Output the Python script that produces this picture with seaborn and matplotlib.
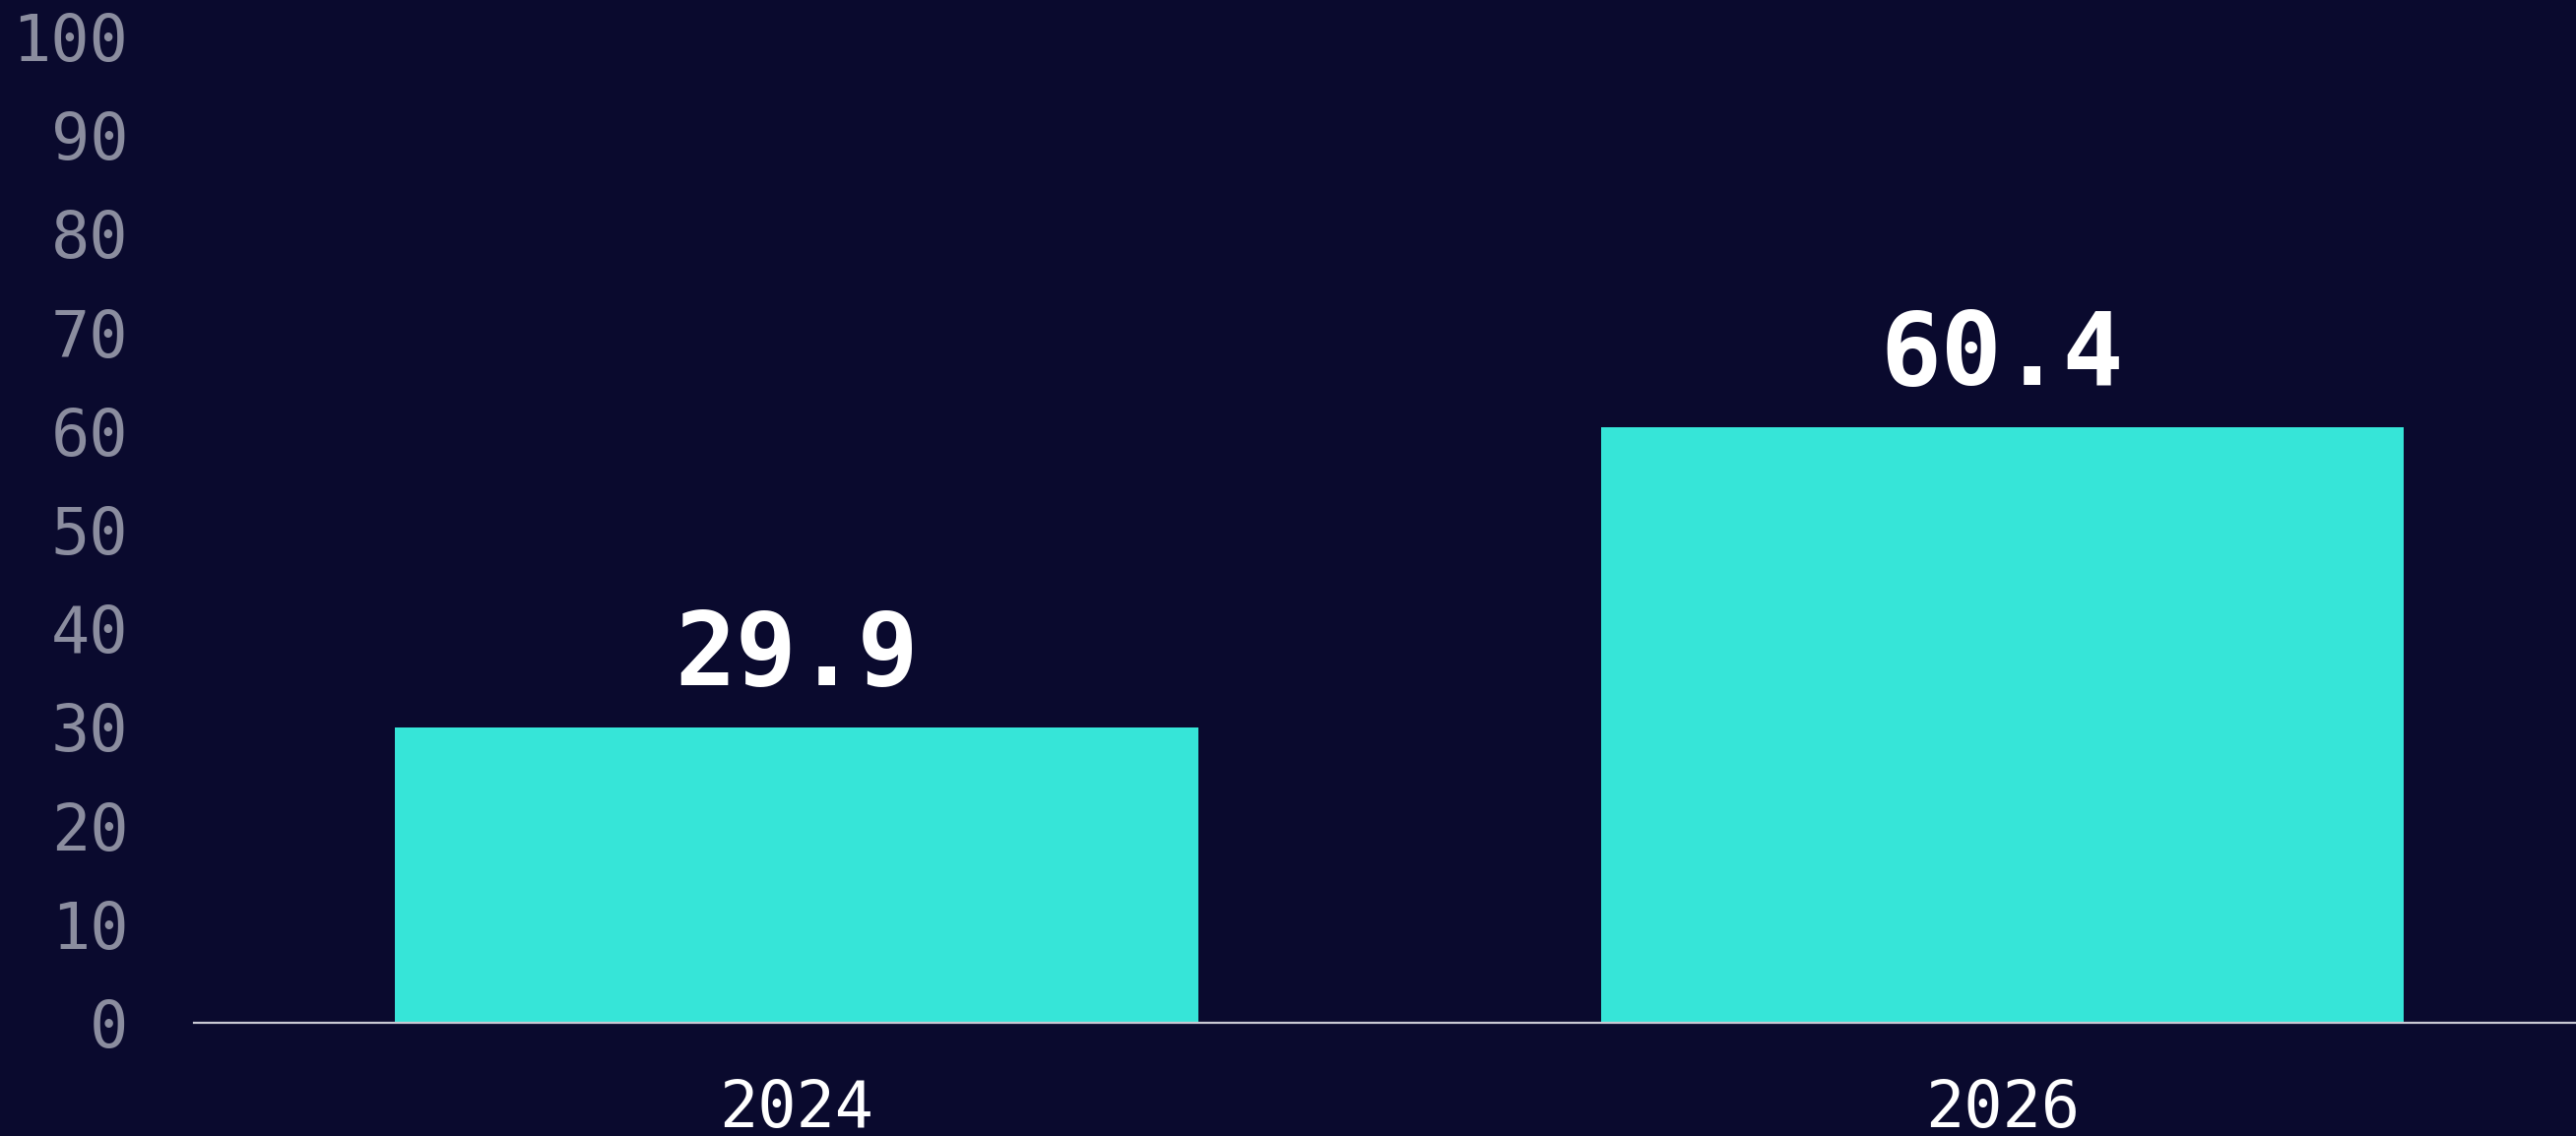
import matplotlib
matplotlib.use("Agg")
import matplotlib.pyplot as plt
import seaborn as sns
import pandas as pd

years = ["2024", "2026"]
values = [29.9, 60.4]
y_ticks = [0, 10, 20, 30, 40, 50, 60, 70, 80, 90, 100]

BG = "#0a0a2e"
BAR = "#36e5d8"
GREY = "#8b8d9f"

sns.set_theme(style="white")
plt.rcParams["font.family"] = ["DejaVu Sans Mono", "DejaVu Sans"]

fig = plt.figure(figsize=(26.16, 11.54), dpi=100, facecolor=BG)
ax = fig.add_axes([197 / 2616, 115 / 1154, 1 - 197 / 2616, (1039 - 37) / 1154])
ax.set_facecolor(BG)

df = pd.DataFrame({"year": years, "value": values})
sns.barplot(data=df, x="year", y="value", color=BAR, width=0.666, saturation=1,
            ax=ax, edgecolor="none")

ax.set_ylim(0, 100)
ax.set_xlim(-0.5, 1.476)
ax.set_yticks(y_ticks)
ax.set_yticklabels([str(t) for t in y_ticks])
ax.set_xlabel("")
ax.set_ylabel("")

for s in ["top", "right", "left"]:
    ax.spines[s].set_visible(False)
ax.spines["bottom"].set_color("#c9c9d3")
ax.spines["bottom"].set_linewidth(1.6)

ax.tick_params(axis="y", length=0, pad=48, labelsize=47, labelcolor=GREY)
ax.tick_params(axis="x", length=0, pad=40, labelsize=47, labelcolor="white")

for i, v in enumerate(values):
    ax.annotate(f"{v}", xy=(i, v), xytext=(0, 31), textcoords="offset points",
                ha="center", va="baseline", color="white", fontsize=74,
                fontweight="bold")

fig.savefig("out.png", dpi=100, facecolor=BG)
